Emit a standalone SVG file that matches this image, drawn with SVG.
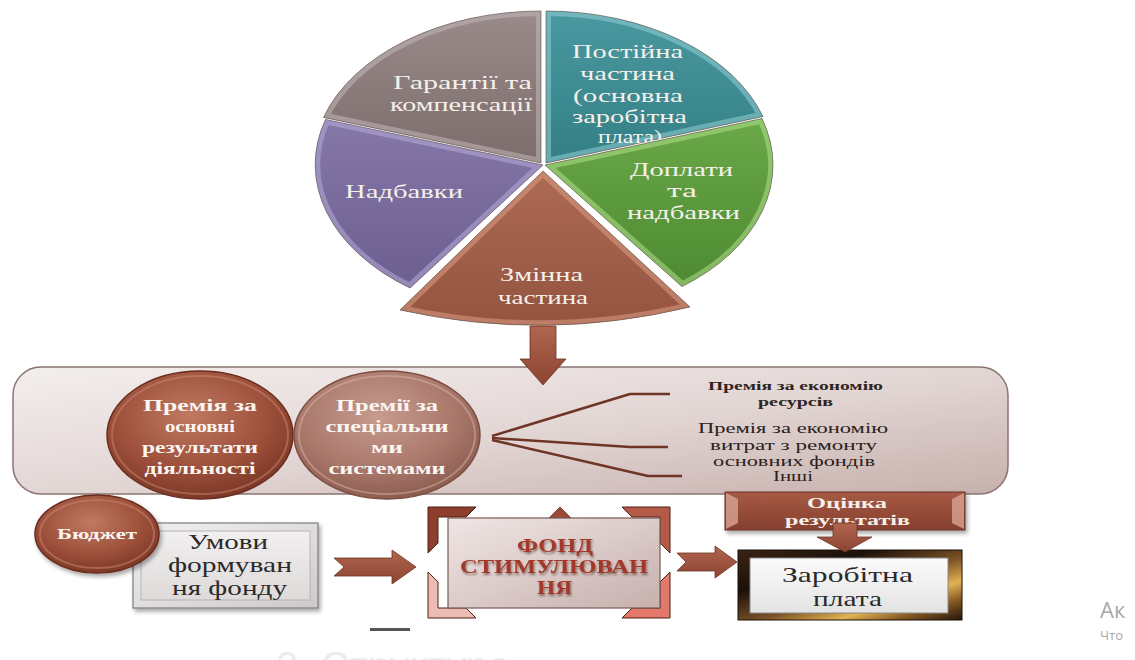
<svg xmlns="http://www.w3.org/2000/svg" xmlns:xlink="http://www.w3.org/1999/xlink" width="1135" height="660" viewBox="0 0 1135 660">
  <style>
    .pie-label { font-family: "Liberation Serif", "DejaVu Serif", serif; font-size: 19px; fill: #f5f0ea; }
    .ball-label { font-family: "Liberation Serif", "DejaVu Serif", serif; font-size: 17px; font-weight: bold; fill: #fbf6f2; }
    .note-small { font-family: "Liberation Serif", "DejaVu Serif", serif; font-size: 12px; font-weight: bold; fill: #2e2422; }
    .note { font-family: "Liberation Serif", "DejaVu Serif", serif; font-size: 15px; fill: #2a201e; }
    .box-label { font-family: "Liberation Serif", "DejaVu Serif", serif; font-size: 22px; fill: #2a2a2a; }
    .fund-label { font-family: "Liberation Serif", "DejaVu Serif", serif; font-size: 19px; font-weight: bold; fill: #a3392a; }
    .tag-label { font-family: "Liberation Serif", "DejaVu Serif", serif; font-size: 15px; font-weight: bold; fill: #f7efe9; }
    .bevel { fill: none; stroke-width: 10; opacity: 0.55; }
    .edge { fill: none; stroke: #5a4a48; stroke-width: 1; stroke-opacity: 0.6; }
    .fan { fill: none; stroke: #6e3526; stroke-width: 2.5; stroke-linejoin: round; }
    .block-arrow { fill: url(#arrowGrad); stroke: #6e3324; stroke-width: 0.8; }
    .watermark { font-family: "Open Sans", "Noto Sans", sans-serif; fill: #a8a8a8; }
  </style>
  <defs>
    <!-- pie slice gradients -->
    <linearGradient id="gGray" x1="0" y1="0" x2="0" y2="1">
      <stop offset="0" stop-color="#9a8b8b"/><stop offset="1" stop-color="#7c6c6c"/>
    </linearGradient>
    <linearGradient id="gTeal" x1="0" y1="0" x2="0" y2="1">
      <stop offset="0" stop-color="#4a98a0"/><stop offset="1" stop-color="#347f86"/>
    </linearGradient>
    <linearGradient id="gGreen" x1="0" y1="0" x2="0" y2="1">
      <stop offset="0" stop-color="#6aa848"/><stop offset="1" stop-color="#4e8a32"/>
    </linearGradient>
    <linearGradient id="gPurple" x1="0" y1="0" x2="0" y2="1">
      <stop offset="0" stop-color="#8577a8"/><stop offset="1" stop-color="#6c5e90"/>
    </linearGradient>
    <linearGradient id="gBrown" x1="0" y1="0" x2="0" y2="1">
      <stop offset="0" stop-color="#ad6a53"/><stop offset="1" stop-color="#945440"/>
    </linearGradient>

    <!-- pie slice outlines: ellipse centre 543,163 rx 228 ry 152 -->
    <path id="sGray" d="M541,163 L323.5,117.4 A228,152 0 0 1 541,11 Z"/>
    <path id="sPurple" d="M543,165 L410,288 A228,152 0 0 1 325.5,119.4 Z"/>
    <path id="sTeal" d="M546,163 L546,11 A228,152 0 0 1 763,116.5 Z"/>
    <path id="sGreen" d="M545,165 L762,118.5 A228,152 0 0 1 682,286.6 Z"/>
    <path id="sBrown" d="M543,171 L400,310 Q545,342 690,307 Z"/>
    <clipPath id="cGray"><use xlink:href="#sGray"/></clipPath>
    <clipPath id="cPurple"><use xlink:href="#sPurple"/></clipPath>
    <clipPath id="cTeal"><use xlink:href="#sTeal"/></clipPath>
    <clipPath id="cGreen"><use xlink:href="#sGreen"/></clipPath>
    <clipPath id="cBrown"><use xlink:href="#sBrown"/></clipPath>

    <linearGradient id="bandGrad" x1="0" y1="0" x2="1" y2="1">
      <stop offset="0" stop-color="#f3eeee"/>
      <stop offset="0.5" stop-color="#e3d7d5"/>
      <stop offset="1" stop-color="#c6b0ac"/>
    </linearGradient>
    <radialGradient id="ballDark" cx="0.45" cy="0.35" r="0.7">
      <stop offset="0" stop-color="#c07a62"/>
      <stop offset="0.6" stop-color="#9c4f3a"/>
      <stop offset="1" stop-color="#773424"/>
    </radialGradient>
    <radialGradient id="ballLight" cx="0.45" cy="0.35" r="0.7">
      <stop offset="0" stop-color="#c79b8e"/>
      <stop offset="0.6" stop-color="#a9786b"/>
      <stop offset="1" stop-color="#87574b"/>
    </radialGradient>
    <linearGradient id="arrowGrad" x1="0" y1="0" x2="0" y2="1">
      <stop offset="0" stop-color="#b0654e"/>
      <stop offset="1" stop-color="#8c4432"/>
    </linearGradient>
    <linearGradient id="greyBox" x1="0" y1="0" x2="1" y2="1">
      <stop offset="0" stop-color="#f2f0f0"/>
      <stop offset="1" stop-color="#cfcaca"/>
    </linearGradient>
    <linearGradient id="greyInner" x1="0" y1="0" x2="0" y2="1">
      <stop offset="0" stop-color="#f1efef"/>
      <stop offset="1" stop-color="#dedada"/>
    </linearGradient>
    <linearGradient id="fundInner" x1="0" y1="0" x2="1" y2="1">
      <stop offset="0" stop-color="#f0e6e5"/>
      <stop offset="1" stop-color="#c6b0ad"/>
    </linearGradient>
    <linearGradient id="tagGrad" x1="0" y1="0" x2="0" y2="1">
      <stop offset="0" stop-color="#a65a45"/>
      <stop offset="1" stop-color="#86402f"/>
    </linearGradient>
    <linearGradient id="goldFrame" x1="0" y1="0" x2="1" y2="1">
      <stop offset="0" stop-color="#3a2414"/>
      <stop offset="0.3" stop-color="#1c110a"/>
      <stop offset="0.55" stop-color="#7a5226"/>
      <stop offset="0.72" stop-color="#e2b252"/>
      <stop offset="0.86" stop-color="#7d5220"/>
      <stop offset="1" stop-color="#24160b"/>
    </linearGradient>
    <linearGradient id="whiteInner" x1="0" y1="0" x2="0" y2="1">
      <stop offset="0" stop-color="#fbfbfb"/>
      <stop offset="1" stop-color="#e3e3e3"/>
    </linearGradient>
    <filter id="shadow" x="-10%" y="-10%" width="130%" height="140%">
      <feDropShadow dx="2" dy="3" stdDeviation="2" flood-color="#000" flood-opacity="0.35"/>
    </filter>
    <filter id="textShadow" x="-10%" y="-30%" width="120%" height="160%">
      <feDropShadow dx="1" dy="2" stdDeviation="1.2" flood-color="#3a1a12" flood-opacity="0.55"/>
    </filter>
  </defs>

  <rect x="0" y="0" width="1135" height="660" fill="#ffffff"/>

  <!-- premium panel -->
  <g id="premium-panel">
    <rect x="13" y="367" width="995" height="127" rx="28" fill="url(#bandGrad)" stroke="#8a7470" stroke-width="1.5"/>
  </g>

  <!-- pie chart -->
  <g id="pie">
    <g id="slice-guarantees">
      <use xlink:href="#sGray" fill="url(#gGray)"/>
      <use xlink:href="#sGray" class="bevel" stroke="#c4b8b8" clip-path="url(#cGray)"/>
      <use xlink:href="#sGray" class="edge"/>
      <text class="pie-label" x="393" y="89" textLength="139" lengthAdjust="spacingAndGlyphs">Гарантії та</text>
      <text class="pie-label" x="390" y="111" textLength="142" lengthAdjust="spacingAndGlyphs">компенсації</text>
    </g>
    <g id="slice-allowances">
      <use xlink:href="#sPurple" fill="url(#gPurple)"/>
      <use xlink:href="#sPurple" class="bevel" stroke="#b7acd8" clip-path="url(#cPurple)"/>
      <use xlink:href="#sPurple" class="edge"/>
      <text class="pie-label" x="345" y="198" textLength="118" lengthAdjust="spacingAndGlyphs">Надбавки</text>
    </g>
    <g id="slice-fixed">
      <use xlink:href="#sTeal" fill="url(#gTeal)"/>
      <use xlink:href="#sTeal" class="bevel" stroke="#8fd0d4" clip-path="url(#cTeal)"/>
      <use xlink:href="#sTeal" class="edge"/>
      <text class="pie-label" x="572" y="58" textLength="111" lengthAdjust="spacingAndGlyphs">Постійна</text>
      <text class="pie-label" x="580" y="80" textLength="95" lengthAdjust="spacingAndGlyphs">частина</text>
      <text class="pie-label" x="573" y="102" textLength="110" lengthAdjust="spacingAndGlyphs">(основна</text>
      <text class="pie-label" x="572" y="123" textLength="115" lengthAdjust="spacingAndGlyphs">заробітна</text>
      <text class="pie-label" x="598" y="143" textLength="64" lengthAdjust="spacingAndGlyphs">плата)</text>
    </g>
    <g id="slice-extra-pay">
      <use xlink:href="#sGreen" fill="url(#gGreen)"/>
      <use xlink:href="#sGreen" class="bevel" stroke="#b0e08a" clip-path="url(#cGreen)"/>
      <use xlink:href="#sGreen" class="edge"/>
      <text class="pie-label" x="630" y="176" textLength="103" lengthAdjust="spacingAndGlyphs">Доплати</text>
      <text class="pie-label" x="667" y="197" textLength="30" lengthAdjust="spacingAndGlyphs">та</text>
      <text class="pie-label" x="627" y="219" textLength="113" lengthAdjust="spacingAndGlyphs">надбавки</text>
    </g>
    <g id="slice-variable">
      <use xlink:href="#sBrown" fill="url(#gBrown)"/>
      <use xlink:href="#sBrown" class="bevel" stroke="#dc9c84" clip-path="url(#cBrown)"/>
      <use xlink:href="#sBrown" class="edge"/>
      <text class="pie-label" x="500" y="281" textLength="83" lengthAdjust="spacingAndGlyphs">Змінна</text>
      <text class="pie-label" x="498" y="304" textLength="90" lengthAdjust="spacingAndGlyphs">частина</text>
    </g>
  </g>

  <!-- bonus balls -->
  <g id="bonus-main">
    <ellipse cx="200" cy="435" rx="93" ry="64" fill="url(#ballDark)" stroke="#6a2c1e" stroke-width="1.5"/>
    <ellipse cx="200" cy="435" rx="88" ry="59" fill="none" stroke="#c98a72" stroke-width="2" opacity="0.5"/>
    <text class="ball-label" x="143" y="411" textLength="114" lengthAdjust="spacingAndGlyphs">Премія за</text>
    <text class="ball-label" x="165" y="432" textLength="70" lengthAdjust="spacingAndGlyphs">основні</text>
    <text class="ball-label" x="142" y="453" textLength="116" lengthAdjust="spacingAndGlyphs">результати</text>
    <text class="ball-label" x="144.5" y="474" textLength="111" lengthAdjust="spacingAndGlyphs">діяльності</text>
  </g>
  <g id="bonus-special">
    <ellipse cx="387" cy="435" rx="93" ry="64" fill="url(#ballLight)" stroke="#7a4c42" stroke-width="1.5"/>
    <ellipse cx="387" cy="435" rx="88" ry="59" fill="none" stroke="#d9b2a6" stroke-width="2" opacity="0.5"/>
    <text class="ball-label" x="336" y="411" textLength="102" lengthAdjust="spacingAndGlyphs">Премії за</text>
    <text class="ball-label" x="325.5" y="432" textLength="123" lengthAdjust="spacingAndGlyphs">спеціальни</text>
    <text class="ball-label" x="371" y="453" textLength="32" lengthAdjust="spacingAndGlyphs">ми</text>
    <text class="ball-label" x="328.5" y="474" textLength="117" lengthAdjust="spacingAndGlyphs">системами</text>
  </g>

  <!-- bonus kinds -->
  <g id="bonus-resources">
    <text class="note-small" x="708" y="390" textLength="175" lengthAdjust="spacingAndGlyphs">Премія за економію</text>
    <text class="note-small" x="758" y="406" textLength="75" lengthAdjust="spacingAndGlyphs">ресурсів</text>
  </g>
  <g id="bonus-repair">
    <text class="note" x="698" y="433" textLength="190" lengthAdjust="spacingAndGlyphs">Премія за економію</text>
    <text class="note" x="710" y="450" textLength="167" lengthAdjust="spacingAndGlyphs">витрат з ремонту</text>
    <text class="note" x="713" y="466" textLength="162" lengthAdjust="spacingAndGlyphs">основних  фондів</text>
    <text class="note" x="773" y="481" textLength="40" lengthAdjust="spacingAndGlyphs">Інші</text>
  </g>

  <!-- fund formation -->
  <g id="conditions">
    <rect x="133" y="523" width="185" height="85" fill="url(#greyBox)" stroke="#7c7c7c" stroke-width="1.2" filter="url(#shadow)"/>
    <rect x="141" y="531" width="169" height="69" fill="url(#greyInner)" stroke="#b8b4b4" stroke-width="1"/>
    <text class="box-label" x="188" y="549" textLength="80" lengthAdjust="spacingAndGlyphs">Умови</text>
    <text class="box-label" x="168" y="572" textLength="124" lengthAdjust="spacingAndGlyphs">формуван</text>
    <text class="box-label" x="172" y="595" textLength="115" lengthAdjust="spacingAndGlyphs">ня фонду</text>
  </g>
  <g id="budget">
    <ellipse cx="97" cy="534" rx="62" ry="39" fill="url(#ballDark)" stroke="#6a2c1e" stroke-width="1.5" filter="url(#shadow)"/>
    <ellipse cx="97" cy="534" rx="57" ry="34" fill="none" stroke="#c98a72" stroke-width="2" opacity="0.5"/>
    <text class="ball-label" x="57" y="539" textLength="80" lengthAdjust="spacingAndGlyphs" style="font-size:15px">Бюджет</text>
  </g>

  <!-- incentive fund -->
  <g id="incentive-fund">
    <polygon points="560,507 549,518 571,518" fill="#9c4a38" stroke="#6a3022" stroke-width="0.8"/>
    <polygon points="428,507 476,507 466,517 438,517 438,543 428,553" fill="#8e3e2c" stroke="#4a2018" stroke-width="1"/>
    <polygon points="670,507 622,507 632,517 660,517 660,543 670,553" fill="#b65a48" stroke="#4a2018" stroke-width="1"/>
    <polygon points="428,618 476,618 466,608 438,608 438,582 428,572" fill="#ecbcb4" stroke="#4a2018" stroke-width="1"/>
    <polygon points="670,618 622,618 632,608 660,608 660,582 670,572" fill="#e4786a" stroke="#4a2018" stroke-width="1"/>
    <rect x="448" y="518" width="212" height="90" fill="url(#fundInner)" stroke="#7a5a55" stroke-width="1.2"/>
    <g filter="url(#textShadow)">
      <text class="fund-label" x="517" y="552" textLength="76" lengthAdjust="spacingAndGlyphs">ФОНД</text>
      <text class="fund-label" x="460" y="573" textLength="188" lengthAdjust="spacingAndGlyphs">СТИМУЛЮВАН</text>
      <text class="fund-label" x="537" y="594" textLength="35" lengthAdjust="spacingAndGlyphs">НЯ</text>
    </g>
  </g>

  <!-- results assessment -->
  <g id="assessment">
    <rect x="725" y="492" width="240" height="38" fill="url(#tagGrad)" stroke="#6a3022" stroke-width="1" filter="url(#shadow)"/>
    <polygon points="726,493 738,499 738,523 726,529" fill="#d9a493" opacity="0.8"/>
    <polygon points="964,493 952,499 952,523 964,529" fill="#d9a493" opacity="0.8"/>
    <text class="tag-label" x="807" y="508" textLength="80" lengthAdjust="spacingAndGlyphs">Оцінка</text>
    <text class="tag-label" x="785" y="525" textLength="125" lengthAdjust="spacingAndGlyphs">результатів</text>
  </g>

  <!-- wages -->
  <g id="wages">
    <rect x="738" y="550" width="224" height="70" fill="url(#goldFrame)" stroke="#1a0f08" stroke-width="1"/>
    <rect x="750" y="558" width="198" height="55" fill="url(#whiteInner)" stroke="#8a8a8a" stroke-width="1"/>
    <text class="box-label" x="782" y="582" textLength="131" lengthAdjust="spacingAndGlyphs">Заробітна</text>
    <text class="box-label" x="813" y="606" textLength="69" lengthAdjust="spacingAndGlyphs">плата</text>
  </g>

  <!-- connectors -->
  <g id="connectors">
    <polygon class="block-arrow" points="530,326 556,326 556,359 566,359 543,385 520,359 530,359"/>
    <polyline class="fan" points="492,436 630,394 670,394"/>
    <polyline class="fan" points="492,438 630,447 668,447"/>
    <polyline class="fan" points="492,440 648,476 682,476"/>
    <polygon class="block-arrow" points="334,558 392,558 392,550 416,567 392,584 392,576 334,576 344,567"/>
    <polygon class="block-arrow" points="677,553 715,553 715,546 737,562 715,578 715,571 677,571 686,562"/>
    <polygon class="block-arrow" points="833,523 857,523 857,537 872,537 845,552 817,537 833,537"/>
  </g>

  <!-- page remnants -->
  <rect x="370" y="628" width="40" height="3" fill="#555555"/>
  <text x="276" y="680" font-family="Liberation Sans, Arial, sans-serif" font-size="40" fill="#ececec">2. Структура</text>
  <text class="watermark" x="1100" y="618" font-size="22">Ак</text>
  <text class="watermark" x="1100" y="640" font-size="13">Что</text>
</svg>
